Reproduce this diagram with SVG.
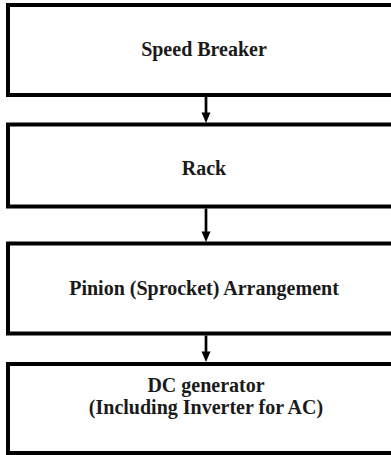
<svg xmlns="http://www.w3.org/2000/svg" width="391" height="455" viewBox="0 0 391 455">
<style>
.box{fill:#fff;stroke:#000;stroke-width:4}
.lbl{font-weight:bold;font-size:20px;fill:#1a1a1a;text-anchor:middle}
.conn{stroke:#000;stroke-width:2.7;fill:none}
.head{fill:#000}
</style>
<rect width="391" height="455" fill="#fff"/>
<g font-family="Liberation Serif, Times New Roman, DejaVu Serif, serif">
<g id="node-speed-breaker">
<rect class="box" x="8" y="5" width="400" height="90"/>
<text class="lbl" x="204" y="56">Speed Breaker</text>
</g>
<g id="node-rack">
<rect class="box" x="8" y="124.5" width="400" height="82"/>
<text class="lbl" x="204" y="174.5">Rack</text>
</g>
<g id="node-pinion">
<rect class="box" x="8" y="243.5" width="400" height="90"/>
<text class="lbl" x="204" y="295">Pinion (Sprocket) Arrangement</text>
</g>
<g id="node-dc-generator">
<rect class="box" x="8" y="364" width="400" height="89"/>
<text class="lbl" x="206" y="392">DC generator</text>
<text class="lbl" x="206" y="413.5">(Including Inverter for AC)</text>
</g>
</g>
<g id="connectors">
<line class="conn" x1="206" y1="97" x2="206" y2="113"/>
<polygon class="head" points="201.5,112.5 210.5,112.5 206,123"/>
<line class="conn" x1="206" y1="208.5" x2="206" y2="232"/>
<polygon class="head" points="201.5,231.5 210.5,231.5 206,242"/>
<line class="conn" x1="206" y1="335.5" x2="206" y2="352"/>
<polygon class="head" points="201.5,351.5 210.5,351.5 206,362"/>
</g>
</svg>
